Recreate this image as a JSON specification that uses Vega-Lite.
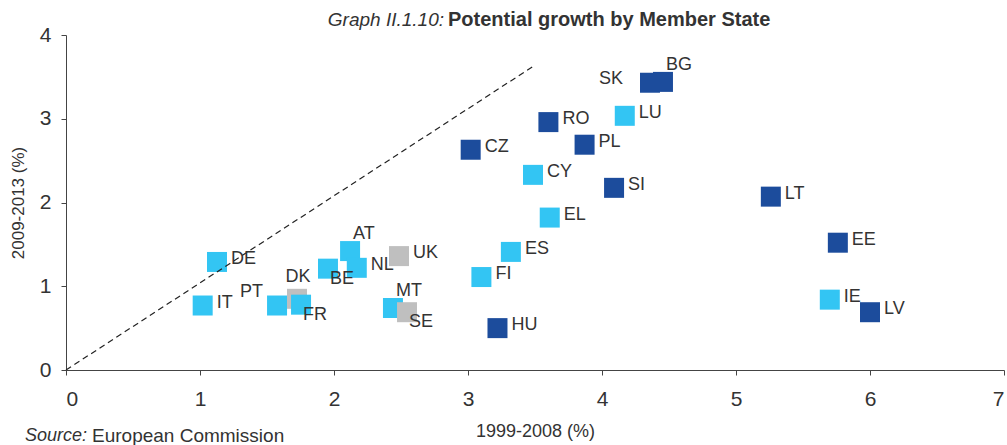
{
  "$schema": "https://vega.github.io/schema/vega-lite/v6.json",
  "width": 938,
  "height": 335,
  "autosize": {"type": "none"},
  "padding": {"left": 66, "top": 35, "right": 3, "bottom": 75},
  "background": "white",
  "config": {"view": {"stroke": null}, "font": "Liberation Sans"},
  "datasets": {
    "pts": [
      {"country": "IT", "grp": "light", "pos": "r", "x": 1.02, "y": 0.77},
      {"country": "DE", "grp": "light", "pos": "r", "x": 1.127, "y": 1.29},
      {"country": "PT", "grp": "light", "pos": "ul", "x": 1.575, "y": 0.77},
      {"country": "DK", "grp": "gray", "pos": "u", "x": 1.724, "y": 0.85},
      {"country": "FR", "grp": "light", "pos": "br", "x": 1.754, "y": 0.78},
      {"country": "BE", "grp": "light", "pos": "br", "x": 1.955, "y": 1.21},
      {"country": "AT", "grp": "light", "pos": "ur", "x": 2.12, "y": 1.42},
      {"country": "NL", "grp": "light", "pos": "r", "x": 2.17, "y": 1.22},
      {"country": "UK", "grp": "gray", "pos": "r", "x": 2.485, "y": 1.36},
      {"country": "MT", "grp": "light", "pos": "ur", "x": 2.44, "y": 0.74},
      {"country": "SE", "grp": "gray", "pos": "br", "x": 2.545, "y": 0.69},
      {"country": "FI", "grp": "light", "pos": "r", "x": 3.1, "y": 1.11},
      {"country": "HU", "grp": "dark", "pos": "r", "x": 3.22, "y": 0.5},
      {"country": "ES", "grp": "light", "pos": "r", "x": 3.32, "y": 1.41},
      {"country": "CZ", "grp": "dark", "pos": "r", "x": 3.02, "y": 2.63},
      {"country": "CY", "grp": "light", "pos": "r", "x": 3.485, "y": 2.33},
      {"country": "EL", "grp": "light", "pos": "r", "x": 3.61, "y": 1.82},
      {"country": "RO", "grp": "dark", "pos": "r", "x": 3.6, "y": 2.96},
      {"country": "PL", "grp": "dark", "pos": "r", "x": 3.87, "y": 2.69},
      {"country": "SI", "grp": "dark", "pos": "r", "x": 4.09, "y": 2.175},
      {"country": "LU", "grp": "light", "pos": "r", "x": 4.17, "y": 3.035},
      {"country": "SK", "grp": "dark", "pos": "l", "x": 4.358, "y": 3.43},
      {"country": "BG", "grp": "dark", "pos": "ur", "x": 4.455, "y": 3.44},
      {"country": "LT", "grp": "dark", "pos": "r", "x": 5.26, "y": 2.07},
      {"country": "EE", "grp": "dark", "pos": "r", "x": 5.76, "y": 1.52},
      {"country": "IE", "grp": "light", "pos": "r", "x": 5.7, "y": 0.84},
      {"country": "LV", "grp": "dark", "pos": "r", "x": 6.0, "y": 0.69}
    ],
    "one": [{}]
  },
  "layer": [
    {
      "data": {"name": "pts"},
      "mark": {"type": "point", "shape": "square", "filled": true, "opacity": 1, "size": 400},
      "encoding": {
        "x": {
          "field": "x", "type": "quantitative",
          "scale": {"domain": [0, 7], "nice": false, "zero": true},
          "axis": {
            "values": [0, 1, 2, 3, 4, 5, 6, 7], "format": "d", "grid": false, "tickSize": 5,
            "labelFont": "Liberation Sans Narrow, Liberation Sans", "labelFontSize": 21, "labelPadding": 13, "labelColor": "#333333",
            "title": "1999-2008 (%)", "titleFont": "Liberation Sans Narrow, Liberation Sans", "titleFontSize": 18, "titleFontWeight": "normal",
            "titleColor": "#333333", "titlePadding": 13,
            "domainColor": "#444444", "tickColor": "#444444"
          }
        },
        "y": {
          "field": "y", "type": "quantitative",
          "scale": {"domain": [0, 4], "nice": false, "zero": true},
          "axis": {
            "values": [0, 1, 2, 3, 4], "format": "d", "grid": false, "tickSize": 5,
            "labelFont": "Liberation Sans Narrow, Liberation Sans", "labelFontSize": 21, "labelPadding": 10, "labelColor": "#333333",
            "title": "2009-2013 (%)", "titleFontSize": 17, "titleFontWeight": "normal",
            "titleColor": "#333333", "titlePadding": 12,
            "domainColor": "#444444", "tickColor": "#444444"
          }
        },
        "color": {
          "field": "grp", "type": "nominal", "legend": null,
          "scale": {"domain": ["dark", "light", "gray"], "range": ["#1c4c9c", "#33c5f3", "#bfbfbf"]}
        }
      }
    },
    {
      "data": {"name": "one"},
      "mark": {"type": "rule", "strokeDash": [6, 4], "color": "#222222", "strokeWidth": 1.2},
      "encoding": {
        "x": {"datum": 0, "type": "quantitative"},
        "y": {"datum": 0, "type": "quantitative"},
        "x2": {"datum": 3.5},
        "y2": {"datum": 3.64}
      }
    },
    {
      "data": {"name": "pts"},
      "transform": [{"filter": "datum.pos == 'r'"}],
      "mark": {"type": "text", "align": "left", "baseline": "middle", "dx": 14, "dy": -3, "fontSize": 18, "color": "#333333"},
      "encoding": {"x": {"field": "x", "type": "quantitative"}, "y": {"field": "y", "type": "quantitative"}, "text": {"field": "country"}}
    },
    {
      "data": {"name": "pts"},
      "transform": [{"filter": "datum.pos == 'ul'"}],
      "mark": {"type": "text", "align": "right", "baseline": "middle", "dx": -14, "dy": -14, "fontSize": 18, "color": "#333333"},
      "encoding": {"x": {"field": "x", "type": "quantitative"}, "y": {"field": "y", "type": "quantitative"}, "text": {"field": "country"}}
    },
    {
      "data": {"name": "pts"},
      "transform": [{"filter": "datum.pos == 'l'"}],
      "mark": {"type": "text", "align": "right", "baseline": "middle", "dx": -27, "dy": -4, "fontSize": 18, "color": "#333333"},
      "encoding": {"x": {"field": "x", "type": "quantitative"}, "y": {"field": "y", "type": "quantitative"}, "text": {"field": "country"}}
    },
    {
      "data": {"name": "pts"},
      "transform": [{"filter": "datum.pos == 'u'"}],
      "mark": {"type": "text", "align": "center", "baseline": "middle", "dx": 1, "dy": -22, "fontSize": 18, "color": "#333333"},
      "encoding": {"x": {"field": "x", "type": "quantitative"}, "y": {"field": "y", "type": "quantitative"}, "text": {"field": "country"}}
    },
    {
      "data": {"name": "pts"},
      "transform": [{"filter": "datum.pos == 'ur'"}],
      "mark": {"type": "text", "align": "left", "baseline": "middle", "dx": 3, "dy": -17, "fontSize": 18, "color": "#333333"},
      "encoding": {"x": {"field": "x", "type": "quantitative"}, "y": {"field": "y", "type": "quantitative"}, "text": {"field": "country"}}
    },
    {
      "data": {"name": "pts"},
      "transform": [{"filter": "datum.pos == 'br'"}],
      "mark": {"type": "text", "align": "left", "baseline": "middle", "dx": 2, "dy": 10, "fontSize": 18, "color": "#333333"},
      "encoding": {"x": {"field": "x", "type": "quantitative"}, "y": {"field": "y", "type": "quantitative"}, "text": {"field": "country"}}
    },
    {
      "data": {"name": "one"},
      "mark": {"type": "text", "align": "right", "baseline": "middle", "font": "Liberation Sans Narrow, Liberation Sans", "fontSize": 19, "fontStyle": "italic", "color": "#333333", "clip": false},
      "encoding": {"x": {"datum": 2.821, "type": "quantitative"}, "y": {"datum": 4.179, "type": "quantitative"}, "text": {"value": "Graph II.1.10:"}}
    },
    {
      "data": {"name": "one"},
      "mark": {"type": "text", "align": "left", "baseline": "middle", "font": "Liberation Sans Narrow, Liberation Sans", "fontSize": 20, "fontWeight": "bold", "color": "#333333", "clip": false},
      "encoding": {"x": {"datum": 2.851, "type": "quantitative"}, "y": {"datum": 4.179, "type": "quantitative"}, "text": {"value": "Potential growth by Member State"}}
    },
    {
      "data": {"name": "one"},
      "mark": {"type": "text", "align": "right", "baseline": "middle", "font": "Liberation Sans Narrow, Liberation Sans", "fontSize": 18, "fontStyle": "italic", "color": "#333333", "clip": false},
      "encoding": {"x": {"datum": 0.157, "type": "quantitative"}, "y": {"datum": -0.788, "type": "quantitative"}, "text": {"value": "Source:"}}
    },
    {
      "data": {"name": "one"},
      "mark": {"type": "text", "align": "left", "baseline": "middle", "font": "Liberation Sans Narrow, Liberation Sans", "fontSize": 19, "color": "#333333", "clip": false},
      "encoding": {"x": {"datum": 0.194, "type": "quantitative"}, "y": {"datum": -0.788, "type": "quantitative"}, "text": {"value": "European Commission"}}
    }
  ]
}
